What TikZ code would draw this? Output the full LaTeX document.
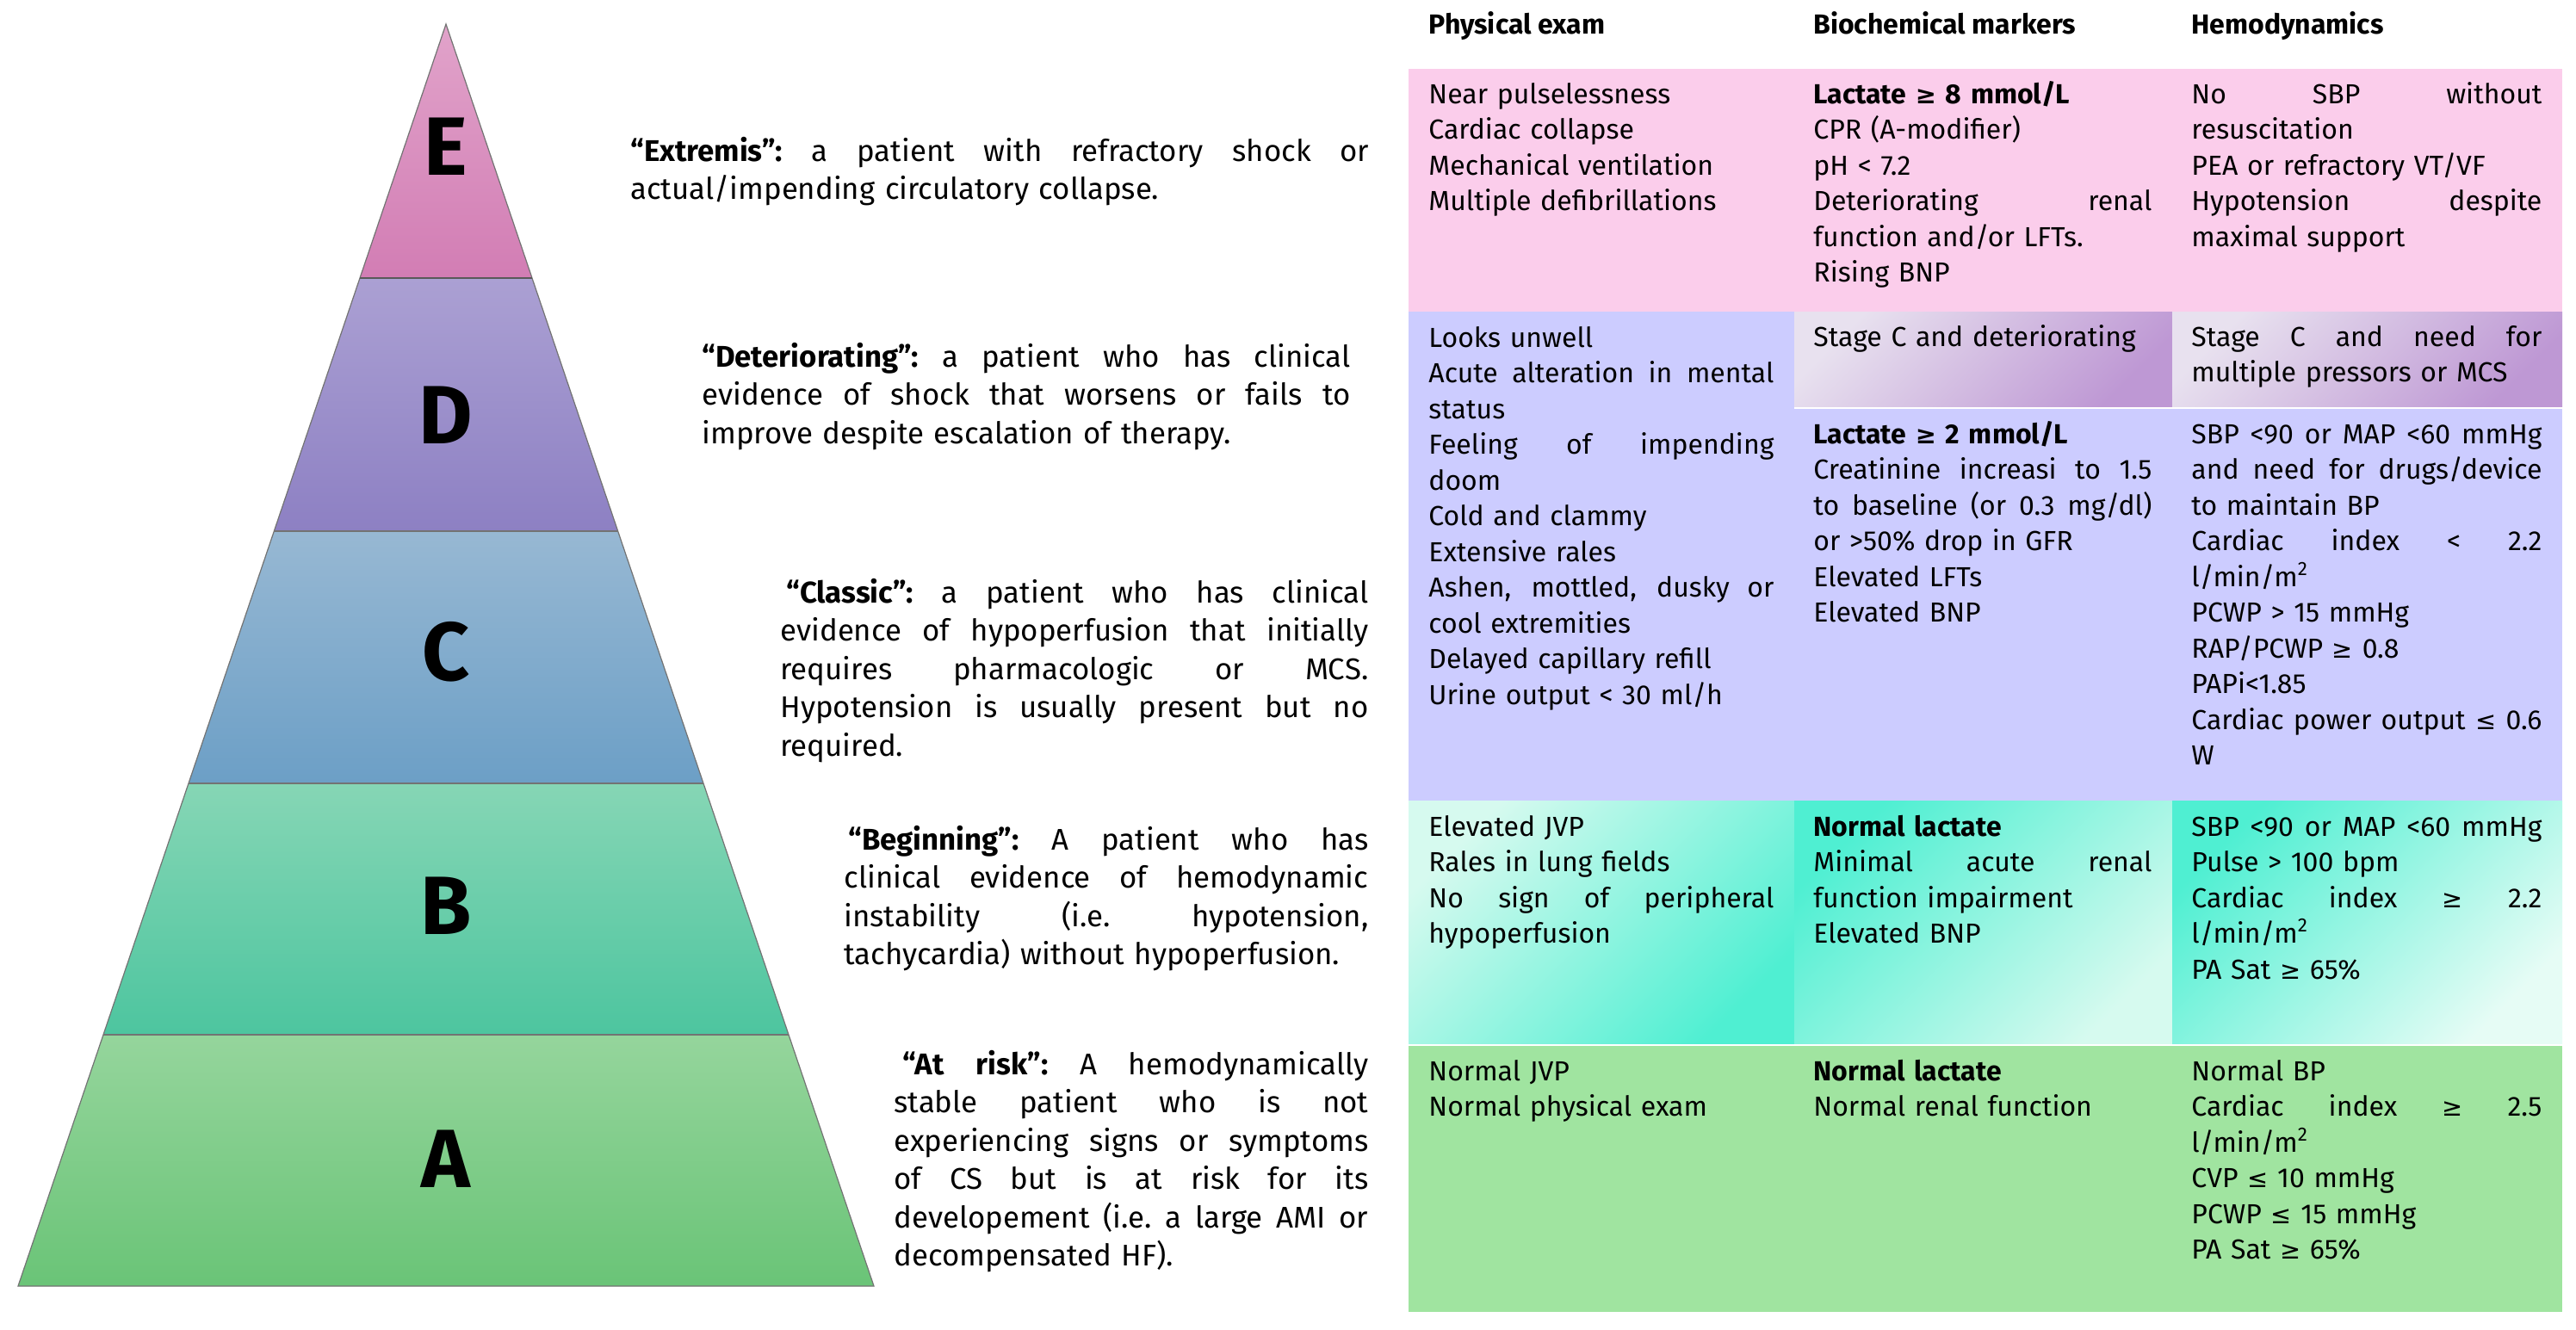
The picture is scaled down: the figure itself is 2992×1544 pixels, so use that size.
\documentclass[tikz,border=0pt]{standalone}
\usepackage{fontspec}
\setmainfont{Fira Sans}
\newfontfamily\symf[Scale=0.9]{DejaVu Sans}
\newcommand\gesym{{\symf ≥}}
\newcommand\lesym{{\symf ≤}}
\newcommand\J[1]{\makebox[\hsize][s]{\spaceskip=.28em plus 1fil\relax\xspaceskip=.28em plus 1fil\relax #1}}
\definecolor{pinkrow}{HTML}{FBCDEB}
\definecolor{lavrow}{HTML}{CCCCFF}
\definecolor{greenrow}{HTML}{A0E4A0}
\definecolor{dtopL}{HTML}{E8E1EF}
\definecolor{dtopD}{HTML}{BE98D4}
\definecolor{bLight}{HTML}{D6FAEF}
\definecolor{bBright}{HTML}{4FEFD2}
\definecolor{eTop}{HTML}{E1A3CA}\definecolor{eBot}{HTML}{D27DB4}
\definecolor{dTop}{HTML}{ABA0D3}\definecolor{dBot}{HTML}{8D80C3}
\definecolor{cTop}{HTML}{97B8D3}\definecolor{cBot}{HTML}{6C9FC6}
\definecolor{bTop}{HTML}{86D6B5}\definecolor{bBot}{HTML}{4DC59F}
\definecolor{aTop}{HTML}{95D59C}\definecolor{aBot}{HTML}{6AC477}
\begin{document}
\begin{tikzpicture}[x=0.5pt,y=-0.5pt,
  pyr/.style={draw=black!55, line width=0.6pt},
  lett/.style={font=\fontsize{48pt}{48pt}\selectfont\bfseries, inner sep=0, anchor=center},
  desc/.style={anchor=base west, inner sep=0, align=left, font=\fontsize{17.4pt}{22.25pt}\selectfont},
  cell/.style={anchor=base west, inner sep=0, align=left, font=\fontsize{16pt}{20.75pt}\selectfont},
  hdr/.style={anchor=base west, inner sep=0, font=\fontsize{16pt}{20pt}\selectfont\bfseries},
  cA/.style={cell, text width=200.5pt},
  cB/.style={cell, text width=196.5pt},
  cC/.style={cell, text width=203.5pt}]
\useasboundingbox (0,0) rectangle (2992,1544);
\fill[white] (0,0) rectangle (2992,1544);
% ---------------- pyramid ----------------
\shade[top color=eTop, bottom color=eBot] (418,323) -- (518,28) -- (618,323) -- cycle;
\shade[top color=dTop, bottom color=dBot] (318.3,617) -- (418,323) -- (618,323) -- (717.7,617) -- cycle;
\shade[top color=cTop, bottom color=cBot] (219,910) -- (318.3,617) -- (717.7,617) -- (817,910) -- cycle;
\shade[top color=bTop, bottom color=bBot] (120,1202) -- (219,910) -- (817,910) -- (916,1202) -- cycle;
\shade[top color=aTop, bottom color=aBot] (21,1494) -- (120,1202) -- (916,1202) -- (1015,1494) -- cycle;
\draw[pyr] (21,1494) -- (518,28) -- (1015,1494) -- cycle;
\draw[pyr] (120,1202) -- (916,1202);
\draw[pyr] (219,910) -- (817,910);
\draw[pyr] (318.3,617) -- (717.7,617);
\draw[pyr, draw=black!65, line width=1pt] (418,323) -- (618,323);
\node[lett] (LE) at (518,170) {E};
\node[lett] (LD) at (518,482) {D};
\node[lett] (LC) at (518,757) {C};
\node[lett] (LB) at (518,1052) {B};
\node[lett] (LA) at (518,1346) {A};
% ---------------- descriptions ----------------
\node[desc, text width=429pt] (dE) at (732,187) {\J{\textbf{“Extremis”:} a patient with refractory shock or}\\actual/impending circulatory collapse.};
\node[desc, text width=376.5pt] (dD) at (815,426) {\J{\textbf{“Deteriorating”:} a patient who has clinical}\\\J{evidence of shock that worsens or fails to}\\improve despite escalation of therapy.};
\node[desc, text width=341.5pt] (dC) at (906,700) {\J{\hspace*{3.5pt}\textbf{“Classic”:} a patient who has clinical}\\\J{evidence of hypoperfusion that initially}\\\J{requires pharmacologic or MCS.}\\\J{Hypotension is usually present but no}\\required.};
\node[desc, text width=304.5pt] (dB) at (980,987) {\J{\hspace*{2.5pt}\textbf{“Beginning”:} A patient who has}\\\J{clinical evidence of hemodynamic}\\\J{instability (i.e. hypotension,}\\tachycardia) without hypoperfusion.};
\node[desc, text width=275.5pt] (dA) at (1038,1248) {\J{\hspace*{5pt}\textbf{“At risk”:} A hemodynamically}\\\J{stable patient who is not}\\\J{experiencing signs or symptoms}\\\J{of CS but is at risk for its}\\\J{developement (i.e. a large AMI or}\\decompensated HF).};
% ---------------- table backgrounds ----------------
\fill[pinkrow] (1636,80) rectangle (2976,362);
\fill[lavrow] (1636,362) rectangle (2084,930);
\shade[top color=dtopL, bottom color=dtopD, shading angle=45] (2084,362) rectangle (2523,472);
\shade[top color=dtopL, bottom color=dtopD, shading angle=45] (2523,362) rectangle (2976,472);
\fill[lavrow] (2084,475) rectangle (2976,930);
\shade[top color=bLight, bottom color=bBright, shading angle=45] (1636,930) rectangle (2084,1212);
\shade[top color=bBright, bottom color=bLight, shading angle=45] (2084,930) rectangle (2523,1212);
\shade[top color=bBright, bottom color=bLight!60!white, shading angle=45] (2523,930) rectangle (2976,1212);
\fill[greenrow] (1636,1215) rectangle (2976,1524);
% ---------------- headers ----------------
\node[hdr] (h1) at (1659,39) {Physical exam};
\node[hdr] (h2) at (2106,39) {Biochemical markers};
\node[hdr] (h3) at (2545,39) {Hemodynamics};
% ---------------- row E ----------------
\node[cA] (e1) at (1659,120) {Near pulselessness\\Cardiac collapse\\Mechanical ventilation\\Multiple defibrillations};
\node[cB] (e2) at (2106,120) {\textbf{Lactate \gesym{} 8 mmol/L}\\CPR (A-modifier)\\pH < 7.2\\\J{Deteriorating renal}\\function and/or LFTs.\\Rising BNP};
\node[cC] (e3) at (2545,120) {\J{No SBP without}\\resuscitation\\PEA or refractory VT/VF\\\J{Hypotension despite}\\maximal support};
% ---------------- row D ----------------
\node[cA] (d1) at (1659,403) {Looks unwell\\\J{Acute alteration in mental}\\status\\\J{Feeling of impending}\\doom\\Cold and clammy\\Extensive rales\\\J{Ashen, mottled, dusky or}\\cool extremities\\Delayed capillary refill\\Urine output < 30 ml/h};
\node[cB] (d2a) at (2106,402) {Stage C and deteriorating};
\node[cC] (d3a) at (2545,402) {\J{Stage C and need for}\\multiple pressors or MCS};
\node[cB] (d2b) at (2106,515) {\textbf{Lactate \gesym{} 2 mmol/L}\\\J{Creatinine increasi to 1.5}\\\J{to baseline (or 0.3 mg/dl)}\\or >50\% drop in GFR\\Elevated LFTs\\Elevated BNP};
\node[cC] (d3b) at (2545,515) {\J{SBP <90 or MAP <60 mmHg}\\\J{and need for drugs/device}\\to maintain BP\\\J{Cardiac index < 2.2}\\l/min/m\textsuperscript{2}\\PCWP > 15 mmHg\\RAP/PCWP \gesym{} 0.8\\PAPi<1.85\\\J{Cardiac power output \lesym{} 0.6}\\W};
% ---------------- row B ----------------
\node[cA] (b1) at (1659,971) {Elevated JVP\\Rales in lung fields\\\J{No sign of peripheral}\\hypoperfusion};
\node[cB] (b2) at (2106,971) {\textbf{Normal lactate}\\\J{Minimal acute renal}\\function impairment\\Elevated BNP};
\node[cC] (b3) at (2545,971) {\J{SBP <90 or MAP <60 mmHg}\\Pulse > 100 bpm\\\J{Cardiac index \gesym{} 2.2}\\l/min/m\textsuperscript{2}\\PA Sat \gesym{} 65\%};
% ---------------- row A ----------------
\node[cA] (a1) at (1659,1255) {Normal JVP\\Normal physical exam};
\node[cB] (a2) at (2106,1255) {\textbf{Normal lactate}\\Normal renal function};
\node[cC] (a3) at (2545,1255) {Normal BP\\\J{Cardiac index \gesym{} 2.5}\\l/min/m\textsuperscript{2}\\CVP \lesym{} 10 mmHg\\PCWP \lesym{} 15 mmHg\\PA Sat \gesym{} 65\%};
\end{tikzpicture}
\end{document}
